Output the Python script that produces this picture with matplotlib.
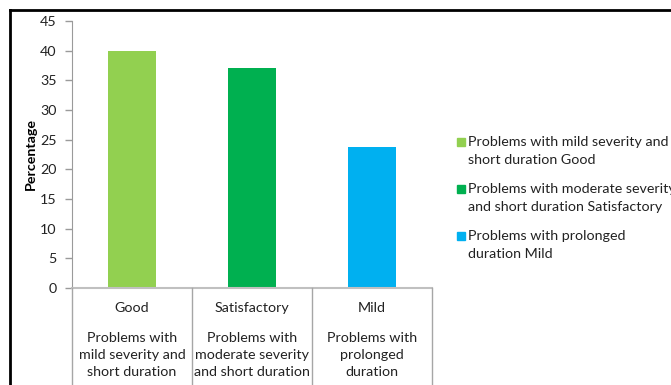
import matplotlib
matplotlib.use("Agg")
import matplotlib.pyplot as plt
from matplotlib.lines import Line2D
from matplotlib.patches import Rectangle

plt.rcParams['font.family'] = ['Lato', 'DejaVu Sans']

categories = ["Good", "Satisfactory", "Mild"]
subcategories = ["Problems with\nmild severity and\nshort duration",
                 "Problems with\nmoderate severity\nand short duration",
                 "Problems with\nprolonged\nduration"]
values = [40, 37, 23.7]
colors = ["#92D050", "#00B050", "#00B0F0"]
legend_labels = ["Problems with mild severity and\nshort duration Good",
                 "Problems with moderate severity\nand short duration Satisfactory",
                 "Problems with prolonged\nduration Mild"]
yticks = [0, 5, 10, 15, 20, 25, 30, 35, 40, 45]

W, H = 671, 385
fig = plt.figure(figsize=(W / 100, H / 100), dpi=100)

def fx(px):
    return px / W

def fy(py):
    return 1 - py / H

x0, x1, ytop, ybot = 72, 432, 21, 288
ax = fig.add_axes([fx(x0), fy(ybot), fx(x1) - fx(x0), fy(ytop) - fy(ybot)])
xs = list(range(len(categories)))
ax.bar(xs, values, width=0.4, color=colors)
ax.set_xlim(-0.5, len(categories) - 0.5)
ax.set_ylim(0, 45)
ax.set_yticks(yticks)
ax.set_yticklabels([str(t) for t in yticks], fontsize=10.3, color="#222222")
ax.tick_params(axis='y', direction='out', length=5, color="#9a9a9a", width=1, pad=6)
ax.set_xticks([])
for s in ['top', 'right']:
    ax.spines[s].set_visible(False)
ax.spines['left'].set_color("#9a9a9a")
ax.spines['bottom'].set_color("#c0c0c0")
ax.spines['bottom'].set_linewidth(1.5)
ax.set_ylabel("Percentage", fontsize=10.3, fontweight='bold', labelpad=2)

# category axis boxes
gray = "#a6a6a6"
for i in range(len(categories) + 1):
    xp = x0 + i * (x1 - x0) / len(categories)
    fig.add_artist(Line2D([fx(xp), fx(xp)], [fy(ybot), 0], color=gray, lw=1,
                          transform=fig.transFigure))
for i, (c, sc) in enumerate(zip(categories, subcategories)):
    xc = x0 + (i + 0.5) * (x1 - x0) / len(categories)
    fig.text(fx(xc), fy(308), c, ha='center', va='center', fontsize=10.3, color="#222222")
    fig.text(fx(xc), fy(355), sc, ha='center', va='center', fontsize=10.3,
             color="#222222", linespacing=1.55)

# legend
ey = [142, 189, 236]
for lab, col, y in zip(legend_labels, colors, ey):
    fig.add_artist(Rectangle((fx(457), fy(y + 4)), fx(8), fy(0) - fy(8),
                             color=col, transform=fig.transFigure))
    fig.text(fx(468), fy(y + 9), lab, ha='left', va='center', fontsize=10.3,
             color="#222222", linespacing=1.58)

# outer border
fig.add_artist(Line2D([fx(10), fx(10)], [fy(10), 0], color='black', lw=2,
                      transform=fig.transFigure))
fig.add_artist(Line2D([fx(10), 1], [fy(10), fy(10)], color='black', lw=2,
                      transform=fig.transFigure))

fig.savefig("out.png", dpi=100)
